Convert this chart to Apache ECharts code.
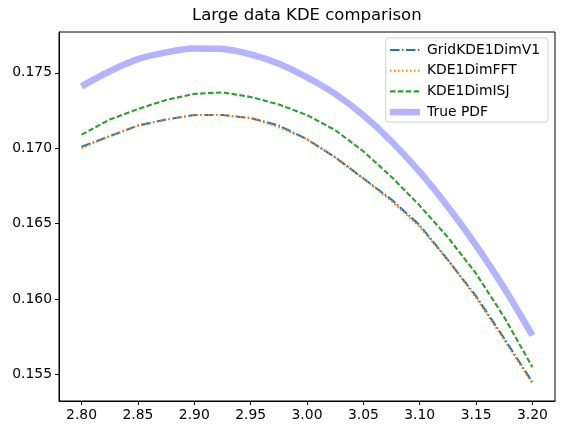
<!DOCTYPE html>
<html>
<head>
<meta charset="utf-8">
<script src="https://cdn.jsdelivr.net/npm/echarts@6/dist/echarts.min.js"></script>
<style>
html,body{margin:0;padding:0;background:#fff;}
#chart{width:565px;height:435px;}
</style>
</head>
<body>
<div id="chart"></div>
<script>
var xValues = [2.800, 2.825, 2.850, 2.875, 2.900, 2.925, 2.950, 2.975, 3.000, 3.025, 3.050, 3.075, 3.100, 3.125, 3.150, 3.175, 3.200];
var gridKDE = [0.1701, 0.1708, 0.1715, 0.1719, 0.1722, 0.1722, 0.1720, 0.1715, 0.1706, 0.1694, 0.1680, 0.1666, 0.1649, 0.1626, 0.1602, 0.1574, 0.1545];
var fftKDE  = [0.1700, 0.1708, 0.1715, 0.1719, 0.1722, 0.1722, 0.1720, 0.1714, 0.1706, 0.1694, 0.1680, 0.1665, 0.1648, 0.1626, 0.1601, 0.1573, 0.1544];
var isjKDE  = [0.1709, 0.1719, 0.1726, 0.1732, 0.1736, 0.1737, 0.1734, 0.1729, 0.1722, 0.1712, 0.1698, 0.1681, 0.1662, 0.1641, 0.1617, 0.1588, 0.1555];
var truePDF = [0.17410, 0.17510, 0.17590, 0.17635, 0.17660, 0.17658, 0.17622, 0.17560, 0.17470, 0.17360, 0.17218, 0.17045, 0.16843, 0.16612, 0.16357, 0.16073, 0.15760];
var xTicks = [2.80, 2.85, 2.90, 2.95, 3.00, 3.05, 3.10, 3.15, 3.20];
var yTicks = [0.155, 0.160, 0.165, 0.170, 0.175];

function pairs(ys){ return xValues.map(function(x,i){ return [x, ys[i]]; }); }

var FONT = 'DejaVu Sans';
var chart = echarts.init(document.getElementById('chart'), null, {renderer:'canvas'});
chart.setOption({
  animation:false,
  backgroundColor:'#fff',
  textStyle:{fontFamily:FONT},
  title:{
    text:'Large data KDE comparison',
    left:192, top:7, padding:0,
    textStyle:{fontFamily:FONT, fontSize:16.5, fontWeight:'normal', color:'#000'}
  },
  grid:{left:59, right:10, top:32, bottom:34, show:true, borderColor:'#000', borderWidth:1, backgroundColor:'transparent', containLabel:false},
  legend:{
    orient:'vertical', right:17, top:38,
    padding:[5,8,3,1],
    itemWidth:30, itemHeight:14, itemGap:6.7,
    borderColor:'#d0d0d0', borderWidth:1, borderRadius:3,
    backgroundColor:'rgba(255,255,255,0.8)',
    itemStyle:{opacity:0, borderWidth:0},
    textStyle:{fontFamily:FONT, fontSize:13.9, color:'#000', padding:[0,0,0,2]},
    data:[
      {name:'GridKDE1DimV1', lineStyle:{width:2.1}},
      {name:'KDE1DimFFT', lineStyle:{width:2.1}},
      {name:'KDE1DimISJ', lineStyle:{width:2.1}},
      {name:'True PDF', lineStyle:{width:6.5}}
    ]
  },
  xAxis:{
    type:'value', min:2.78, max:3.22,
    axisLine:{show:true, onZero:false, lineStyle:{color:'#000', width:1}},
    axisTick:{show:true, inside:false, length:4, customValues:xTicks, lineStyle:{color:'#000'}},
    axisLabel:{customValues:xTicks, color:'#000', fontSize:13.9, fontFamily:FONT, margin:7,
      formatter:function(v){ return v.toFixed(2); }},
    splitLine:{show:false}
  },
  yAxis:{
    type:'value', min:0.15326, max:0.17770,
    axisLine:{show:true, onZero:false, lineStyle:{color:'#000', width:1}},
    axisTick:{show:true, inside:false, length:4, customValues:yTicks, lineStyle:{color:'#000'}},
    axisLabel:{customValues:yTicks, color:'#000', fontSize:13.9, fontFamily:FONT, margin:7,
      formatter:function(v){ return v.toFixed(3); }},
    splitLine:{show:false}
  },
  series:[
    {name:'GridKDE1DimV1', type:'line', data:pairs(gridKDE), showSymbol:false, symbol:'none', z:3,
      lineStyle:{color:'#1f77b4', width:2.1, type:[9.6,2.4,1.5,2.4]}, itemStyle:{color:'#1f77b4'}},
    {name:'KDE1DimFFT', type:'line', data:pairs(fftKDE), showSymbol:false, symbol:'none', z:4,
      lineStyle:{color:'#ff7f0e', width:2.1, type:[1.5,2.5]}, itemStyle:{color:'#ff7f0e'}},
    {name:'KDE1DimISJ', type:'line', data:pairs(isjKDE), showSymbol:false, symbol:'none', z:5,
      lineStyle:{color:'#2ca02c', width:2.1, type:[5.5,2.4]}, itemStyle:{color:'#2ca02c'}},
    {name:'True PDF', type:'line', data:pairs(truePDF), showSymbol:false, symbol:'none', smooth:0.3, z:6,
      lineStyle:{color:'#b3b3ff', width:6.5, type:'solid', cap:'butt'}, itemStyle:{color:'#b3b3ff'}}
  ]
});
</script>
</body>
</html>
